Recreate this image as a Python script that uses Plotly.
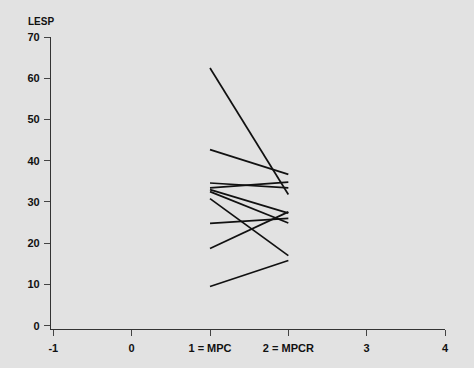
import plotly.graph_objects as go

# Data: each subject measured at condition 1 (MPC) and 2 (MPCR)
conditions = [1, 2]
mpc_values = [62.5, 42.7, 34.6, 33.4, 33.0, 32.5, 30.8, 24.8, 18.7, 9.5]
mpcr_values = [31.8, 36.7, 33.4, 34.8, 27.3, 24.9, 17.0, 26.0, 27.6, 15.8]

x_tickvals = [-1, 0, 1, 2, 3, 4]
x_ticktext = ["-1", "0", "1 = MPC", "2 = MPCR", "3", "4"]
y_tickvals = [0, 10, 20, 30, 40, 50, 60, 70]
y_label = "LESP"

bg = "#e2e2e2"
fig = go.Figure()
for a, b in zip(mpc_values, mpcr_values):
    fig.add_trace(go.Scatter(x=conditions, y=[a, b], mode="lines",
                             line=dict(color="#111111", width=1.7),
                             showlegend=False, hoverinfo="skip"))

font = dict(family="Liberation Sans, Arial, sans-serif", size=11, color="#111111")

fig.update_layout(
    width=474, height=368,
    margin=dict(l=51, r=29, t=37, b=39),
    paper_bgcolor=bg, plot_bgcolor=bg,
    font=font,
    showlegend=False,
    xaxis=dict(range=[-1.03, 4.0], tickvals=x_tickvals,
               ticktext=["<b>%s</b>" % t for t in x_ticktext],
               showgrid=False, zeroline=False, showline=True,
               linecolor="#333333", linewidth=1.2,
               ticks="outside", ticklen=6, tickcolor="#444444", tickwidth=1,
               ticklabelstandoff=3, fixedrange=True),
    yaxis=dict(range=[-0.8, 70], tickvals=y_tickvals,
               ticktext=["<b>%d</b>" % v for v in y_tickvals],
               showgrid=False, zeroline=False, showline=True,
               linecolor="#333333", linewidth=1.2,
               ticks="outside", ticklen=6, tickcolor="#444444", tickwidth=1,
               ticklabelstandoff=2, fixedrange=True),
    annotations=[dict(text="<b>%s</b>" % y_label, xref="paper", yref="paper",
                      x=(41 - 51) / 394, y=(329 - 21) / 292,
                      xanchor="center", yanchor="middle", showarrow=False,
                      font=dict(family="Liberation Sans, Arial, sans-serif", size=10, color="#111111"))],
)

fig.write_html("out.html", config={"displayModeBar": False},
               post_script="document.body.style.margin='0';document.body.style.padding='0';"
                           "document.body.style.background='%s';document.body.style.overflow='hidden';" % bg)
